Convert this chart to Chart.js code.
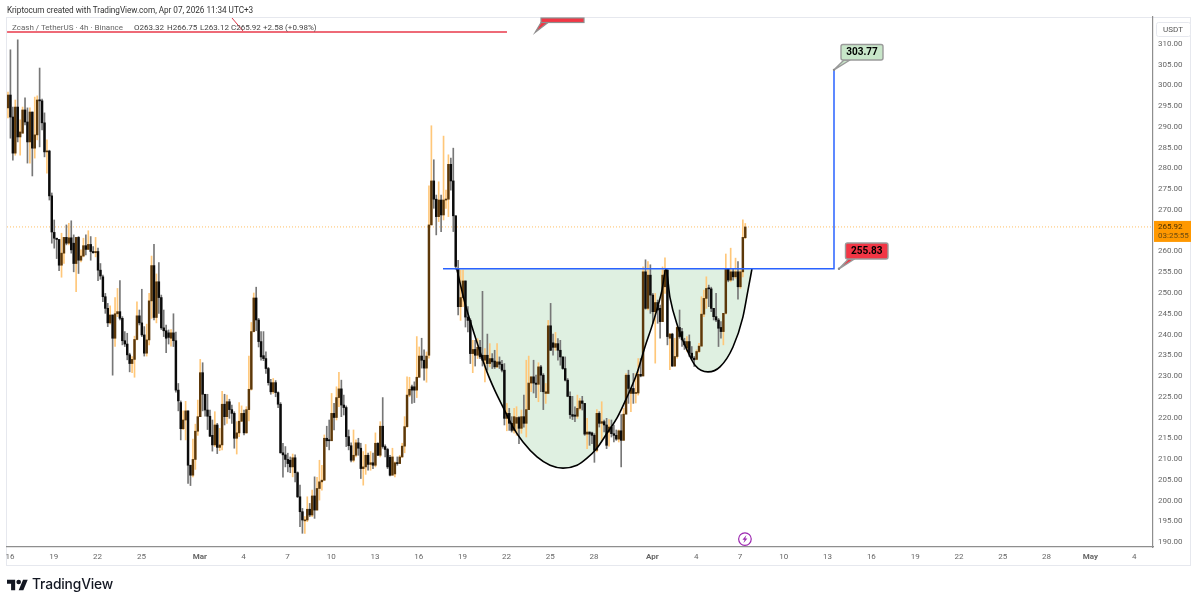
<!DOCTYPE html>
<html>
<head>
<meta charset="utf-8">
<title>Zcash / TetherUS</title>
<script src="https://cdn.jsdelivr.net/npm/chart.js@4/dist/chart.umd.min.js"></script>
<style>
  html, body { margin: 0; padding: 0; background: #fff; }
  #wrap { position: relative; width: 1200px; height: 605px; overflow: hidden; }
  canvas { display: block; }
  .txt { position: absolute; white-space: nowrap; font-family: Roboto, sans-serif; }
  #credit { left: 7px; top: 5px; font-size: 8.2px; color: #333; letter-spacing: -.03px; }
  #legend { left: 12px; top: 23px; font-size: 8px; color: #666; }
  #legend span { position: absolute; top: 0; color: #444; }
  #logo { left: 7px; top: 577px; }
  #brand { left: 32px; top: 576px; font-family: Inter, sans-serif; font-weight: 500; font-size: 13.8px; color: #131722; letter-spacing: -.15px; }
</style>
</head>
<body>
<div id="wrap">
  <canvas id="chart" width="1200" height="605"></canvas>
  <div class="txt" id="credit">Kriptocum created with TradingView.com, Apr 07, 2026 11:34 UTC+3</div>
  <div class="txt" id="legend">Zcash / TetherUS · 4h · Binance<span style="left:122px">O263.32</span><span style="left:155px">H266.75</span><span style="left:188px">L263.12</span><span style="left:219px">C265.92</span><span style="left:251px">+2.58 (+0.98%)</span></div>
  <svg id="logo" class="txt" width="21" height="17" viewBox="0 0 36 28" fill="#131722"><path d="M14 22H7V11H0V4h14v18zM28 22h-8l7.5-18h8L28 22z"/><circle cx="20" cy="8" r="4"/></svg>
  <div class="txt" id="brand">TradingView</div>
</div>
<script>
'use strict';

// 4h candles, one value per bar
var opens = [
  294.6,297.7,292.4,283.7,294.8,287.6,288.5,294.1,291.2,286.4,
  293.6,284.9,288.1,296.5,296.3,291,284,284.2,273.4,264.6,
  263.2,262.9,256.7,259.6,263.4,262,263.3,262,257.1,263.4,
  257.9,258.9,261.4,260.5,261.7,260,259.7,260,255.5,253.9,
  249.1,246.3,242.8,244.7,239.1,245,245.5,243.9,238.5,237.7,
  235.1,233,234,238.8,244.5,242.8,239.9,235.5,238.7,248.1,
  256.6,244.1,252.7,248.9,241.6,240.9,240.4,239.1,240.4,238.5,
  226.6,223.6,217.3,219.4,221.6,208.5,206.1,209.9,216.7,220.2,
  230.8,225.6,221.8,220.3,215.7,213.4,218.2,212.8,213.4,223.2,
  220.2,223.8,221.9,221,215,216.3,219.1,221,216.3,221.9,
  226.8,240.7,248.8,243.5,238.3,234.9,234.2,231.8,228.4,226.2,
  228.4,226,223.2,211.5,211,209.9,209.7,208.1,210.3,206.7,
  200.9,197.3,195.1,195.3,197.9,196.5,201.1,197.7,202.9,204.5,
  204.9,215,214.6,214.4,221,220,224.8,226.9,223,222.4,
  215.4,213.2,209.7,210.9,213.9,212.6,207.7,208.1,210.9,208.7,
  209.1,208.5,213.8,210.9,217.9,213,212.3,210.4,206.1,206.4,
  209.1,208.9,210.5,213.1,217.8,225.4,227.4,227.4,226.6,229.7,
  234.8,233.8,231.9,235,266.4,277,272.6,268.4,272.4,268.8,
  272.4,272.6,281,277,268.6,255.9,246.7,248.9,252.9,244.2,
  243.4,235.4,236.4,235,236.9,235,233.8,235,233,234.2,
  233.6,232.2,233.4,232.8,231.4,219.8,221,218.6,216.9,218.6,
  220,217.4,220.2,218.6,221.9,228.3,229.8,228.3,228,232.2,
  230.2,225.8,225.8,242.1,238,236.9,237.8,236.2,234.6,231.8,
  229,225.1,220.7,220.6,220.3,222.2,224,223.4,216,216.5,
  216.3,215.7,212.1,221,218.6,219,218.2,216.5,217.7,216.1,
  215.7,214.8,216.8,214.5,220.8,230.2,225.8,227,225.8,225.9,
  230.4,230,255.1,246.3,254.3,249.5,245.5,247.7,246.3,243.1,
  251.5,255.5,239.1,240.1,232.4,234.7,241.7,240.7,238.3,236.7,
  238.3,235.5,234.3,234,235.9,237.2,244.9,248.7,251.1,251,
  246.3,244.3,243.5,241.7,240.7,245.1,255.7,253.1,255.1,253.9,
  255.1,251.5,255.1,263.32
];
var closes = [
  297.7,292.4,283.7,294.8,287.6,288.8,294.1,291.2,286.4,293.6,
  284.9,288.1,296.5,296.3,291,284,284.2,273.4,264.7,263.2,
  262.9,256.7,259.6,263.4,262,263.3,260.4,257.1,263.4,257.9,
  258.9,261.4,260.5,261.7,260,259.7,260,255.5,254.1,249.1,
  246.3,242.8,244.7,239.1,245,245.5,243.9,238.5,237.7,235.1,
  233,234,238.8,244.5,242.8,239.9,235.5,238.7,248.1,256.6,
  244.1,252.7,248.9,241.6,240.9,239.1,239.3,240.4,238.5,226.6,
  224,217.3,219.4,221.6,208.5,206.1,209.9,216.7,220.2,230.8,
  225.6,221.8,220.3,215.5,213.4,218.2,212.8,213.4,223.2,220.2,
  223.8,221.9,221,215,216.3,219.1,221,216.3,221.9,226.8,
  240.7,248.8,243.5,238.3,234.6,234.2,231.8,228.4,226.2,228.4,
  226,223.2,211.5,211,209.9,208.9,208.1,210.3,206.7,200.9,
  197.3,195.3,195.3,197.9,196.5,201.1,197.7,202.9,204.5,204.9,
  215,214.4,214.4,221,220,224.8,226.9,223,222.4,215.4,
  213.2,209.7,210.9,213.9,212.6,207.7,208.1,210.9,208.7,209.1,
  208.5,213.8,210.9,217.9,213,212.3,208.1,206.1,210.5,209.1,
  208.9,210.5,213.1,217.8,225.4,226.8,226.6,226.6,229.7,234.8,
  233.8,231.9,234.8,266.4,277,272.6,268.4,272.4,268.8,272.4,
  272.6,281,277,268.6,256.4,246.7,248.9,252.9,244.2,243.4,
  235.4,236.4,235,236.9,234.6,233.8,235,233,234.2,233.4,
  232.2,233.4,232.8,231.4,219.8,221,218.6,216.9,220.2,220,
  217.4,220.2,218.6,221.9,228.3,229.8,228.3,228,232.2,230.2,
  226.2,226.2,242.1,236.2,236.9,237.8,236.2,234.6,231.8,229,
  225.1,220.7,220.3,220.3,222.2,224,223.4,216,216.5,216,
  215.7,212.1,221,218.6,219,218.2,213.3,217.7,216.1,215.7,
  214.8,216.8,214.5,220.8,230.2,227,227,225.8,225.9,230.4,
  230,255.1,246.3,254.3,249.5,245.5,247.7,245.9,243.1,254.3,
  255.5,239.5,240.1,232.4,234.7,241.7,239.5,238.7,237.5,238.3,
  235.5,234.3,233.9,235.9,237.2,244.9,248.7,251.1,251,246.3,
  244.3,243.5,241.5,240.7,245.1,255.7,253.1,255.1,253.9,255.1,
  251.5,255.1,263.4,265.92
];
var highs = [
  298.4,308.6,294.8,296.5,311,291.7,294.8,297,294.6,294.6,
  293.6,297.2,297.5,304.2,296.7,293.4,286.9,284.4,274.1,267.6,
  263.2,262.9,264.4,263.4,266.4,266.8,267.4,264,263.4,263.6,
  260.4,263.2,264,265,263.6,261.2,263.4,260.8,257.1,254.3,
  249.9,247.5,246.9,244.7,248.9,251.1,253,244.3,240.7,240.3,
  235.5,234.7,239.6,247.9,245.9,250.9,241.9,242.5,249.9,258.9,
  261.7,254.6,257.3,249.5,245.9,242.3,241.1,241.2,245,240.6,
  228.2,224,221.6,223.9,221.6,208.5,214.8,218.4,224.2,234,
  233.2,225.6,225.6,221.8,219.4,221.4,218.6,217.4,226.3,225.6,
  225.4,224.4,223,221.4,219,223.6,222.8,221.8,222.6,234.8,
  242.9,250,251.4,243.9,240.7,240.7,235.8,232.1,229.2,229.4,
  228.9,226.2,223.6,213.8,213,211.4,210.5,211.2,211,206.9,
  203.7,198.1,196.1,200.9,199.3,202.5,205.7,205.6,209.7,208.5,
  215.8,217.9,219.4,225.8,223.4,227.4,230.9,229,225.4,222.8,
  217,213.9,217,214.6,215,213.8,211.8,213.5,211.4,211.8,
  211.4,216.3,213.9,219,224.8,213.4,212.6,210.9,212.6,209.3,
  210.5,210.9,213.8,220.2,229.8,229.7,227.8,228.6,239.5,237,
  239.1,236.3,235.8,275.8,290.3,282.1,273.6,276.8,273.6,287.8,
  274.8,283.3,282.5,284.9,268.6,257.9,255.5,255.5,252.9,246.7,
  243.8,238.6,238.6,239,238.6,250.4,236.6,240.1,237.8,235.4,
  236.2,237.8,234.6,233.8,233,223.4,222.2,220.2,222.2,222.6,
  220.2,221.8,225.4,233.8,234.8,229.8,233.8,230.2,233.2,232.6,
  230.6,228.2,243.4,247.5,240.1,240.5,239,238.6,234.6,234.6,
  229.4,226.2,225.1,222.6,225.4,224.6,225.1,223.4,219.8,216.5,
  216.5,216.1,221.9,221.4,223.8,219.4,219.8,219.5,219.4,218.2,
  217,217,220.7,222.2,230.6,231.4,227,230.6,230.6,234.2,
  234.2,256.3,258,257.6,256.8,249.9,249.9,248.3,247.1,256.3,
  258.5,255.7,240.3,240.3,239.1,241.9,245.9,241.5,239.1,239.5,
  239.9,237.1,234.7,236.3,237.9,249.1,250.7,253.9,251.9,251.4,
  246.3,249.9,243.9,243.1,245.1,259.4,255.9,260.8,255.7,258.4,
  257.6,255.9,267.6,266.75
];
var lows = [
  292.2,287.3,282,283.2,286.4,283.2,288.5,290.5,281.3,281.3,
  278.2,282.5,286.9,285.2,289.3,282.8,278.9,272.4,262,260.8,
  258.3,255.4,253.8,257.1,261.6,261.6,259.6,255.1,250.3,254.7,
  257.5,258.7,259.2,260.5,257.9,259.6,258.7,253,253.3,247.9,
  245.1,241.9,242.5,230.2,237.1,244.3,243.5,237.5,237.1,233.9,
  231,230.8,229.7,238.7,242.3,239.5,234.8,234.8,237.5,243.9,
  243.5,242.8,245.1,241.2,239.5,235.6,237.7,237.2,237.1,226.1,
  221.6,214.6,217.1,214.6,204.1,203.6,205.7,207.5,215.7,220.2,
  221.6,220.3,217.1,215.4,211.9,213,211.3,212,212.2,218.2,
  218.6,219.8,218.6,212.6,211.2,215.4,219,215.8,216.2,219.2,
  226.6,240.6,240.9,237,233.8,233.7,230.6,227.8,225.6,225.8,
  225,222.4,211.4,205.6,208.1,206.9,206.7,205.7,204.5,200.7,
  193.7,192.1,192.1,194.9,196.1,196.1,195.7,197.7,200.1,202.5,
  204.8,213,212.2,214.4,217,219.4,222.6,220.2,220.6,213,
  212.2,209.3,209.3,210.5,210.9,205.3,203.7,206.3,207.3,207.3,
  207.7,208.1,210.8,210.5,212.6,210.5,207.7,205.9,206.1,205.7,
  208.5,208.9,210.4,211.5,217.6,225,223.4,223.6,224.8,229.7,
  231.9,229,228.5,234.3,266.4,270.4,264,267.2,264.8,267.6,
  270.4,268.4,274.8,264.8,255.7,244.7,243.4,246.7,241.8,240.6,
  233,230.8,232.4,234.2,234.2,232.4,228.6,231.4,232.2,231.8,
  231.8,232,231.8,231,218.2,216.8,216.9,216.5,216.2,215.7,
  213.7,216.2,217.7,215.3,221.9,226.2,225.9,224.8,223.8,226.2,
  221.9,223.4,225.8,236.1,235,236.2,233.8,232.6,231.6,228.8,
  225,219.8,219.5,219,219.8,221.8,221.8,215.7,212.5,213.3,
  213.7,209.2,211.7,217.7,214.5,216.5,212.5,213.1,215.3,214.1,
  214.5,214.1,208.1,214.5,221.8,223.4,221.4,223.4,223.5,225.4,
  229.8,230,246.1,245.9,245.1,242.7,233.1,242.7,239.1,243.1,
  249.9,237.5,231.5,232.3,232.3,234.3,239.1,237.1,236.4,235.9,
  234.7,233.9,232.3,233.9,235.6,237.2,244.3,246.3,246.7,245.5,
  243.5,243.1,237.1,239.1,237.5,244.9,252.7,252.7,253.1,253.5,
  248.5,251.1,253.9,263.12
];

// cup and handle outline, days since Feb 16 and price
var curveDays = [30.6,31.16,31.5,32.05,32.67,33.2,33.77,34.45,35.14,36.1,36.99,37.88,38.84,39.52,40.2,40.89,41.58,42.26,42.95,43.49,44.04,44.66,44.93,45.2,45.75,46.37,46.92,47.81,48.63,49.52,50.2,50.55,50.82];
var curvePrices = [255.8,247.6,243.5,237.4,231,226.6,222.5,217.7,214.1,210.5,208.5,207.8,208.5,210.2,212.6,216.2,219.9,224.9,230.7,237,242.8,250.7,255.8,249,241.8,236.3,232.6,231,232.2,237,244.2,250.7,255.8];

// axis ticks
var tickDays = [0,3,6,9,13,16,19,22,25,28,31,34,37,40,44,47,50,53,56,59,62,65,68,71,74,77];
var tickLabels = ['16','19','22','25','Mar','4','7','10','13','16','19','22','25','28','Apr','4','7','10','13','16','19','22','25','28','May','4'];
var monthLabels = ['Mar','Apr','May'];
var tickPrices = [190,195,200,205,210,215,220,225,230,235,240,245,250,255,260,265,270,275,280,285,290,295,300,305,310];

var lastPrice = 265.92;
var countdown = '03:25:55';
var breakoutLevel = 255.83;
var targetLevel = 303.77;
var breakoutDays = [29.66, 56.44, 56.44];
var breakoutPrices = [breakoutLevel, breakoutLevel, targetLevel];
var redLineDays = [-0.2, 34.04];
var redLinePrices = [312.9, 312.9];

var firstBarDay = -0.137;
var barStep = 1 / 6;
var minDay = -0.205, maxDay = 78.29;
var minPrice = 188.8, maxPrice = 316.5;

var UP_BODY = '#5c380a', DOWN_BODY = '#0b0b0b';
var UP_WICK = '#ffc779', DOWN_WICK = '#777777';

function barDay(i) { return firstBarDay + i * barStep; }
function isUp(i) { return closes[i] >= opens[i]; }

var wicks = opens.map(function (o, i) { return { x: barDay(i), y: [lows[i], highs[i]] }; });
var bodies = opens.map(function (o, i) { return { x: barDay(i), y: [o, closes[i]] }; });
var wickColors = opens.map(function (o, i) { return isUp(i) ? UP_WICK : DOWN_WICK; });
var bodyColors = opens.map(function (o, i) { return isUp(i) ? UP_BODY : DOWN_BODY; });

function pts(xs, ys) {
  return xs.map(function (x, i) { return { x: x, y: ys[i] }; });
}

// small speech bubble with its tail ending on a chart point
function callout(ctx, ax, ay, bx, by, bw, bh, fill, text) {
  ctx.save();
  ctx.lineJoin = 'round';
  ctx.fillStyle = fill;
  ctx.strokeStyle = '#9a9a9a';
  ctx.lineWidth = 1.4;
  ctx.beginPath();
  ctx.moveTo(ax, ay);
  ctx.lineTo(bx + 3, by + bh);
  ctx.lineTo(bx + 9, by + bh);
  ctx.closePath();
  ctx.fill();
  ctx.stroke();
  ctx.beginPath();
  ctx.roundRect(bx, by, bw, bh, 2);
  ctx.fill();
  ctx.stroke();
  ctx.fillStyle = '#8a8a8a';
  ctx.beginPath();
  ctx.arc(ax, ay, 1.2, 0, Math.PI * 2);
  ctx.fill();
  ctx.fillStyle = '#000';
  ctx.font = 'bold 10px Roboto, sans-serif';
  ctx.textAlign = 'center';
  ctx.textBaseline = 'middle';
  ctx.fillText(text, bx + bw / 2, by + bh / 2 + 0.5);
  ctx.restore();
}

var frame = {
  id: 'frame',
  beforeDraw: function (chart) {
    var ctx = chart.ctx;
    ctx.save();
    ctx.strokeStyle = '#e6e8ee';
    ctx.lineWidth = 1;
    ctx.strokeRect(6.5, 17.5, 1184, 548);
    ctx.restore();
  },
  afterDatasetsDraw: function (chart) {
    var ctx = chart.ctx, x = chart.scales.x, y = chart.scales.y;

    callout(ctx, x.getPixelForValue(56.44), y.getPixelForValue(targetLevel), 841, 44.5, 42, 15.5, '#c8e6c9', targetLevel.toFixed(2));
    callout(ctx, x.getPixelForValue(56.78), y.getPixelForValue(breakoutLevel), 845.5, 243, 42.5, 16, '#f23645', breakoutLevel.toFixed(2));

    // the third bubble is cut off by the top of the pane
    ctx.save();
    ctx.fillStyle = '#f23645';
    ctx.strokeStyle = '#8f8f8f';
    ctx.lineWidth = 1.2;
    ctx.beginPath();
    ctx.moveTo(535, 32.5);
    ctx.lineTo(548, 22.5);
    ctx.lineTo(541, 22.5);
    ctx.closePath();
    ctx.fill();
    ctx.stroke();
    ctx.fillRect(541, 18, 43, 4.5);
    ctx.strokeRect(541, 18, 43, 4.5);
    // tail of the hidden bubble over the legend
    ctx.strokeStyle = '#dc3545';
    ctx.lineWidth = 1;
    ctx.beginPath();
    ctx.moveTo(232, 18);
    ctx.lineTo(243, 31);
    ctx.stroke();
    ctx.restore();

    // price scale header and last price tag
    ctx.save();
    ctx.fillStyle = '#fff';
    ctx.strokeStyle = '#e6e8ee';
    ctx.beginPath();
    ctx.roundRect(1156.5, 22.5, 34, 14, 2);
    ctx.fill();
    ctx.stroke();
    ctx.fillStyle = '#555';
    ctx.font = '8px Roboto, sans-serif';
    ctx.textAlign = 'center';
    ctx.textBaseline = 'middle';
    ctx.fillText('USDT', 1173, 30);

    var ly = y.getPixelForValue(lastPrice);
    ctx.fillStyle = '#ff9800';
    ctx.fillRect(1154, ly - 6, 37, 21);
    ctx.textAlign = 'left';
    ctx.fillStyle = '#4a3000';
    ctx.fillText(lastPrice.toFixed(2), 1158, ly);
    ctx.fillStyle = '#6b4a10';
    ctx.fillText(countdown, 1158, ly + 9);

    // news marker under the last candle
    var mx = x.getPixelForValue(50.34), my = y.getPixelForValue(190.7);
    ctx.strokeStyle = '#9c27b0';
    ctx.lineWidth = 1.2;
    ctx.beginPath();
    ctx.arc(mx, my, 6.3, 0, Math.PI * 2);
    ctx.stroke();
    ctx.fillStyle = '#9c27b0';
    ctx.beginPath();
    ctx.moveTo(mx + 1.5, my - 4);
    ctx.lineTo(mx - 2.5, my + 0.7);
    ctx.lineTo(mx - 0.3, my + 0.7);
    ctx.lineTo(mx - 1.5, my + 4);
    ctx.lineTo(mx + 2.5, my - 0.7);
    ctx.lineTo(mx + 0.3, my - 0.7);
    ctx.closePath();
    ctx.fill();
    ctx.restore();
  }
};

new Chart(document.getElementById('chart'), {
  type: 'bar',
  plugins: [frame],
  data: {
    datasets: [
      {
        type: 'line',
        data: pts(redLineDays, redLinePrices),
        borderColor: '#e8394a',
        borderWidth: 1.5,
        pointRadius: 0,
        order: 0
      },
      {
        type: 'line',
        data: pts(breakoutDays, breakoutPrices),
        borderColor: '#2962ff',
        borderWidth: 1.5,
        pointRadius: 0,
        order: 1
      },
      {
        type: 'line',
        data: pts(curveDays, curvePrices),
        borderColor: '#000',
        borderWidth: 1.6,
        pointRadius: 0,
        cubicInterpolationMode: 'monotone',
        fill: { target: { value: breakoutLevel } },
        backgroundColor: '#dff0e1',
        order: 2
      },
      {
        data: bodies,
        backgroundColor: bodyColors,
        barThickness: 1.8,
        minBarLength: 1,
        grouped: false,
        order: 3
      },
      {
        data: wicks,
        backgroundColor: wickColors,
        barThickness: 1,
        grouped: false,
        order: 4
      },
      {
        type: 'line',
        data: pts([minDay, maxDay], [lastPrice, lastPrice]),
        borderColor: 'rgba(255,152,0,.6)',
        borderWidth: 1,
        borderDash: [1, 2],
        pointRadius: 0,
        order: 5
      }
    ]
  },
  options: {
    responsive: false,
    animation: false,
    layout: { padding: { left: 7, top: 17, right: 7, bottom: 40 } },
    plugins: {
      legend: { display: false },
      tooltip: { enabled: false },
      filler: { drawTime: 'beforeDatasetsDraw' }
    },
    scales: {
      x: {
        type: 'linear',
        min: minDay,
        max: maxDay,
        offset: false,
        grid: { display: false, offset: false, drawTicks: false },
        border: { color: '#8e8e8e', width: 1.2 },
        afterBuildTicks: function (s) {
          s.ticks = tickDays.map(function (d) { return { value: d }; });
        },
        afterFit: function (s) { s.height = 18; },
        ticks: {
          autoSkip: false,
          maxRotation: 0,
          minRotation: 0,
          padding: 5,
          color: '#666',
          font: function (c) {
            var major = c.tick && monthLabels.indexOf(c.tick.label) >= 0;
            return { family: 'Roboto, sans-serif', size: 8, weight: major ? 'bold' : 'normal' };
          },
          callback: function (v, i) { return tickLabels[i]; }
        }
      },
      y: {
        position: 'right',
        min: minPrice,
        max: maxPrice,
        grid: { display: false, drawTicks: false },
        border: { color: '#8e8e8e', width: 1.2 },
        afterBuildTicks: function (s) {
          s.ticks = tickPrices.map(function (p) { return { value: p }; });
        },
        afterFit: function (s) { s.width = 40; },
        ticks: {
          autoSkip: false,
          padding: 5,
          color: '#666',
          font: { family: 'Roboto, sans-serif', size: 8 },
          callback: function (v) { return v.toFixed(2); }
        }
      }
    }
  }
});
</script>
</body>
</html>
